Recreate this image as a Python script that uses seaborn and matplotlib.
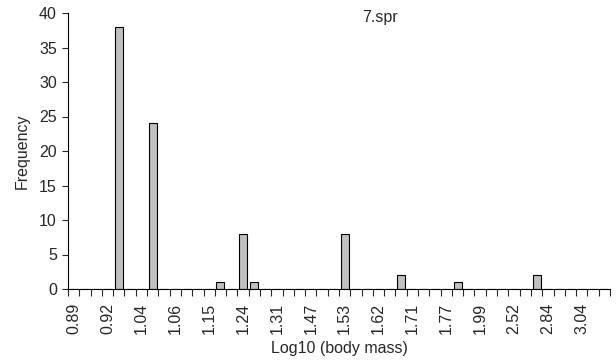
import numpy as np
import pandas as pd
import matplotlib
matplotlib.use("Agg")
import matplotlib.pyplot as plt
import seaborn as sns

# 48 bins; labels shown on every third bin
tick_labels = ["0.89", "0.92", "1.04", "1.06", "1.15", "1.24", "1.31", "1.47",
               "1.53", "1.62", "1.71", "1.77", "1.99", "2.52", "2.84", "3.04"]
freq = [0, 0, 0, 0, 38, 0, 0, 24, 0, 0, 0, 0, 0, 1, 0, 8,
        1, 0, 0, 0, 0, 0, 0, 0, 8, 0, 0, 0, 0, 2, 0, 0,
        0, 0, 1, 0, 0, 0, 0, 0, 0, 2, 0, 0, 0, 0, 0, 0]
bins = [f"b{i:02d}" for i in range(len(freq))]

sns.set_style("white")
plt.rcParams['font.family'] = ['Liberation Sans', 'DejaVu Sans']

df = pd.DataFrame({"bin": bins, "freq": freq})

FS = 11.5
fig = plt.figure(figsize=(6.16, 3.6), dpi=100)
ax = fig.add_axes([68/616, 1 - 289/360, (610-68)/616, (289-13)/360])
sns.barplot(data=df, x="bin", y="freq", order=bins, color="#c0c0c0",
            edgecolor="black", linewidth=0.8, width=0.7, saturation=1, ax=ax)

ax.set_xlim(-0.5, len(bins) - 0.5)
ax.set_ylim(0, 40)
ax.set_yticks(np.arange(0, 41, 5))
ax.tick_params(axis='y', labelsize=FS, length=4, width=0.8, direction='out', left=True, pad=4)

ax.set_xticks(np.arange(-0.5, len(bins), 1))
ax.set_xticklabels([])
ax.tick_params(axis='x', which='major', length=5, width=0.8, direction='out', bottom=True)
ax.set_xticks(np.arange(0, len(bins), 3)[:len(tick_labels)], minor=True)
ax.set_xticklabels(tick_labels, minor=True, rotation=90, fontsize=FS)
ax.tick_params(axis='x', which='minor', length=0, pad=10)

for s in ["top", "right"]:
    ax.spines[s].set_visible(False)
for s in ["left", "bottom"]:
    ax.spines[s].set_color("black")
    ax.spines[s].set_linewidth(0.8)

ax.set_xlabel("Log10 (body mass)", fontsize=FS, labelpad=5)
ax.set_ylabel("Frequency", fontsize=FS, labelpad=7)
ax.text(0.575, 0.985, "7.spr", transform=ax.transAxes, fontsize=FS, ha="center", va="center")

fig.savefig("out.png", dpi=100)
